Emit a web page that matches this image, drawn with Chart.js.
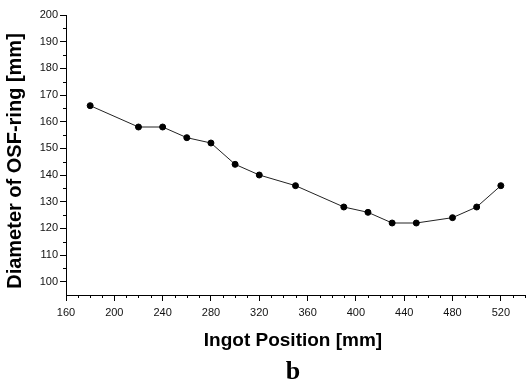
<!DOCTYPE html>
<html>
<head>
<meta charset="utf-8">
<script src="https://cdn.jsdelivr.net/npm/chart.js@4/dist/chart.umd.min.js"></script>
<style>
  html, body { margin: 0; padding: 0; background: #fff; }
  #wrap { width: 530px; height: 384px; position: relative; }
</style>
</head>
<body>
<div id="wrap"><canvas id="osf_chart"></canvas></div>
<script>
// ingot position [mm] and OSF-ring diameter [mm]
var positions = [180, 220, 240, 260, 280, 300, 320, 350, 390, 410, 430, 450, 480, 500, 520];
var diameters = [166, 158, 158, 154, 152, 144, 140, 136, 128, 126, 122, 122, 124, 128, 136];

var xTicks = [160, 200, 240, 280, 320, 360, 400, 440, 480, 520];
var yTicks = [100, 110, 120, 130, 140, 150, 160, 170, 180, 190, 200];
var xMinorStep = 10;
var yMinorStep = 5;

var xTitle = 'Ingot Position [mm]';
var yTitle = 'Diameter of OSF-ring [mm]';
var panelLabel = 'b';

// short minor ticks between the labelled ones, plus the axis titles and panel letter
var extras = {
    id: 'extras',
    afterDraw: function (chart) {
        var ctx = chart.ctx;
        var xs = chart.scales.x, ys = chart.scales.y;
        ctx.save();
        ctx.strokeStyle = '#000';
        ctx.lineWidth = 1;
        ctx.beginPath();
        for (var v = xs.min; v <= xs.max; v += xMinorStep) {
            if (xTicks.indexOf(v) >= 0) continue;
            var px = Math.round(xs.getPixelForValue(v)) + 0.5;
            ctx.moveTo(px, xs.top);
            ctx.lineTo(px, xs.top + 3);
        }
        for (var w = 100; w <= ys.max; w += yMinorStep) {
            if (yTicks.indexOf(w) >= 0) continue;
            var py = Math.round(ys.getPixelForValue(w)) + 0.5;
            ctx.moveTo(ys.right, py);
            ctx.lineTo(ys.right - 3, py);
        }
        ctx.stroke();

        ctx.fillStyle = '#000';
        ctx.textAlign = 'center';
        ctx.textBaseline = 'middle';
        ctx.font = 'bold 19px "Liberation Sans"';
        ctx.fillText(xTitle, 293, 341);
        ctx.font = 'bold 26px "Liberation Serif"';
        ctx.fillText(panelLabel, 293, 372);

        ctx.translate(15, 161);
        ctx.rotate(-Math.PI / 2);
        ctx.font = 'bold 20px "Liberation Sans"';
        ctx.fillText(yTitle, 0, 0);
        ctx.restore();
    }
};

var canvas = document.getElementById('osf_chart').getContext('2d');
var chart_instance = new Chart(canvas, {
    type: 'line',
    data: {
        datasets: [{
            data: positions.map(function (p, i) { return { x: p, y: diameters[i] }; }),
            borderColor: '#222',
            borderWidth: 1,
            backgroundColor: '#000',
            pointBackgroundColor: '#000',
            pointBorderColor: '#000',
            pointBorderWidth: 1,
            pointRadius: 3,
            tension: 0
        }]
    },
    options: {
        responsive: true,
        maintainAspectRatio: false,
        animation: false,
        layout: { padding: { left: 0, right: 0, top: 15, bottom: 0 } },
        plugins: {
            legend: { display: false },
            tooltip: { enabled: false }
        },
        scales: {
            x: {
                type: 'linear',
                min: 160,
                max: 540,
                afterBuildTicks: function (s) { s.ticks = xTicks.map(function (v) { return { value: v }; }); },
                afterFit: function (s) { s.height = 89; },
                border: { display: true, color: '#000', width: 1 },
                grid: { drawOnChartArea: false, drawTicks: true, tickLength: 6, color: '#000' },
                ticks: {
                    color: '#111',
                    padding: 5,
                    maxRotation: 0,
                    font: { family: 'Liberation Sans', size: 11 }
                }
            },
            y: {
                type: 'linear',
                min: 95,
                max: 200,
                afterBuildTicks: function (s) { s.ticks = yTicks.map(function (v) { return { value: v }; }); },
                afterFit: function (s) { s.width = 66; },
                border: { display: true, color: '#000', width: 1 },
                grid: { drawOnChartArea: false, drawTicks: true, tickLength: 6, color: '#000' },
                ticks: {
                    color: '#111',
                    padding: 2,
                    font: { family: 'Liberation Sans', size: 11 }
                }
            }
        }
    },
    plugins: [extras]
});
</script>
</body>
</html>
